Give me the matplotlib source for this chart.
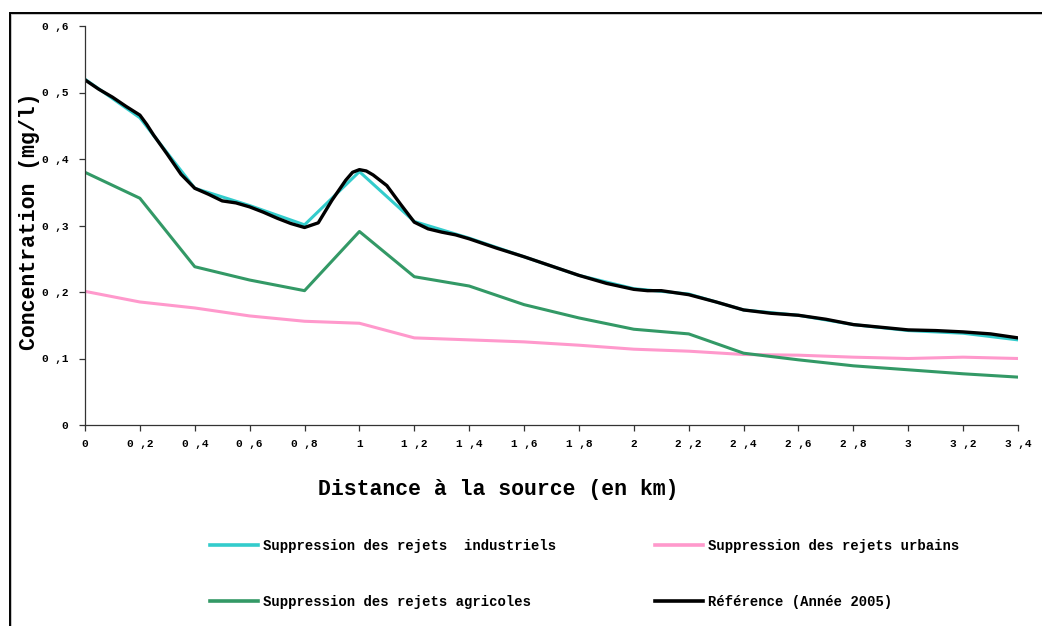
import numpy as np
import matplotlib
matplotlib.use("Agg")
import matplotlib.pyplot as plt
from matplotlib.patches import Rectangle
from matplotlib.lines import Line2D

# Distances (km) and concentrations (mg/l)
x_step = [0, 0.2, 0.4, 0.6, 0.8, 1.0, 1.2, 1.4, 1.6, 1.8, 2.0, 2.2, 2.4, 2.6, 2.8, 3.0, 3.2, 3.4]
industriels = [0.520, 0.462, 0.356, 0.330, 0.301, 0.381, 0.306, 0.281, 0.253, 0.225, 0.205, 0.197,
               0.173, 0.165, 0.151, 0.142, 0.138, 0.128]
urbains = [0.201, 0.185, 0.176, 0.164, 0.156, 0.153, 0.131, 0.128, 0.125, 0.120, 0.114, 0.111,
           0.106, 0.105, 0.102, 0.100, 0.102, 0.100]
agricoles = [0.380, 0.341, 0.238, 0.218, 0.202, 0.291, 0.223, 0.209, 0.181, 0.161, 0.144, 0.137,
             0.108, 0.098, 0.089, 0.083, 0.077, 0.072]

x_ref = [0, 0.05, 0.1, 0.15, 0.2, 0.225, 0.25, 0.3, 0.35, 0.4, 0.45, 0.5, 0.55, 0.6, 0.65, 0.7,
         0.75, 0.8, 0.85, 0.9, 0.95, 0.975, 1.0, 1.025, 1.05, 1.1, 1.15, 1.2, 1.25, 1.3, 1.35,
         1.4, 1.5, 1.6, 1.7, 1.8, 1.9, 2.0, 2.05, 2.1, 2.2, 2.3, 2.4, 2.5, 2.6, 2.7, 2.8, 2.9,
         3.0, 3.1, 3.2, 3.3, 3.4]
reference = [0.519, 0.505, 0.493, 0.479, 0.466, 0.452, 0.436, 0.407, 0.377, 0.356, 0.347, 0.337,
             0.334, 0.328, 0.320, 0.311, 0.303, 0.297, 0.304, 0.338, 0.368, 0.380, 0.384, 0.382,
             0.376, 0.360, 0.332, 0.305, 0.295, 0.290, 0.286, 0.280, 0.266, 0.253, 0.239, 0.225,
             0.213, 0.204, 0.202, 0.202, 0.196, 0.185, 0.173, 0.168, 0.165, 0.159, 0.151, 0.147,
             0.143, 0.142, 0.140, 0.137, 0.131]

y_ticks = [0, 0.1, 0.2, 0.3, 0.4, 0.5, 0.6]
y_labels = ["0", "0 ,1", "0 ,2", "0 ,3", "0 ,4", "0 ,5", "0 ,6"]
x_ticks = [0, 0.2, 0.4, 0.6, 0.8, 1.0, 1.2, 1.4, 1.6, 1.8, 2.0, 2.2, 2.4, 2.6, 2.8, 3.0, 3.2, 3.4]
x_labels = ["0", "0 ,2", "0 ,4", "0 ,6", "0 ,8", "1", "1 ,2", "1 ,4", "1 ,6", "1 ,8", "2",
            "2 ,2", "2 ,4", "2 ,6", "2 ,8", "3", "3 ,2", "3 ,4"]

c_ind, c_urb, c_agr, c_ref = "#33CCCC", "#FF99CC", "#339966", "#000000"
mono = "Liberation Mono"

fig = plt.figure(figsize=(10.42, 6.26), dpi=100)
ax = fig.add_axes([85 / 1042, 1 - 425 / 626, (1018 - 85) / 1042, (425 - 26) / 626])

ax.plot(x_step, industriels, color=c_ind, lw=2.2, solid_joinstyle="round")
ax.plot(x_step, urbains, color=c_urb, lw=2.2, solid_joinstyle="round")
ax.plot(x_step, agricoles, color=c_agr, lw=2.2, solid_joinstyle="round")
ax.plot(x_ref, reference, color=c_ref, lw=2.4, solid_joinstyle="round", solid_capstyle="round")

ax.set_xlim(0, 3.4)
ax.set_ylim(0, 0.6)
ax.set_xticks(x_ticks)
ax.set_xticklabels(x_labels)
ax.set_yticks(y_ticks)
ax.set_yticklabels(y_labels)
for s in ["top", "right"]:
    ax.spines[s].set_visible(False)
for s in ["left", "bottom"]:
    ax.spines[s].set_color("#333333")
    ax.spines[s].set_linewidth(0.9)
ax.tick_params(axis="both", direction="out", length=4, width=0.9, color="#333333")
ax.tick_params(axis="x", pad=6)
ax.tick_params(axis="y", pad=8)
for lab in ax.get_xticklabels() + ax.get_yticklabels():
    lab.set_fontfamily(mono)
    lab.set_fontweight("bold")
    lab.set_fontsize(8)

# axis titles
fig.text(498 / 1042, 1 - 490 / 626, "Distance à la source (en km)", fontfamily=mono,
         fontweight="bold", fontsize=15.5, ha="center", va="center")
fig.text(30 / 1042, 1 - 221 / 626, "Concentration (mg/l)", fontfamily=mono,
         fontweight="bold", fontsize=15.5, ha="center", va="center", rotation=90)

# legend: two columns, placed separately
h_ind = Line2D([], [], color=c_ind, lw=2.6)
h_urb = Line2D([], [], color=c_urb, lw=2.6)
h_agr = Line2D([], [], color=c_agr, lw=2.6)
h_ref = Line2D([], [], color=c_ref, lw=2.6)
leg_font = {"family": mono, "weight": "bold", "size": 10}
for handles, labels, x0 in [([h_ind, h_agr], ["Suppression des rejets  industriels",
                                               "Suppression des rejets agricoles"], 210),
                            ([h_urb, h_ref], ["Suppression des rejets urbains",
                                              "Référence (Année 2005)"], 655)]:
    fig.legend(handles, labels, loc="upper left", bbox_to_anchor=(x0 / 1042, 1 - 539 / 626),
               frameon=False, prop=leg_font, handlelength=3.45, handletextpad=0.35,
               labelspacing=3.0, borderpad=0, borderaxespad=0)

# outer frame of the chart area
fig.patches.append(Rectangle((11 / 1042, -0.05), 1.1, 1 - 14 / 626 + 0.05, transform=fig.transFigure,
                             fill=False, edgecolor="#BBBBBB", lw=1.2))
fig.patches.append(Rectangle((10 / 1042, -0.05), 1.1, 1 - 13 / 626 + 0.05, transform=fig.transFigure,
                             fill=False, edgecolor="black", lw=1.4))

fig.savefig("out.png", dpi=100)
